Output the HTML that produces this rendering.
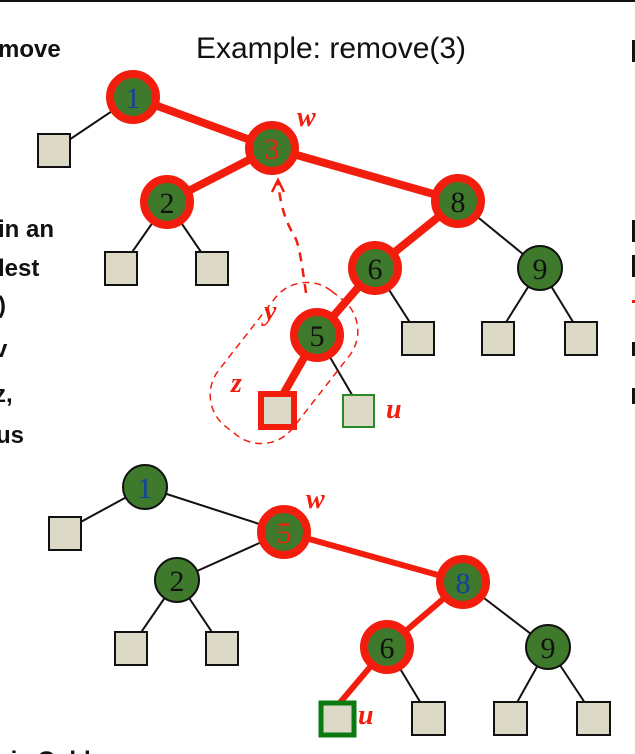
<!DOCTYPE html>
<html><head><meta charset="utf-8"><style>
html,body{margin:0;padding:0;background:#fff;width:635px;height:754px;overflow:hidden}
svg{display:block}
.num{font-family:"Liberation Serif",serif;font-size:30px;text-anchor:middle}
.lbl{font-family:"Liberation Serif",serif;font-style:italic;font-weight:bold;fill:#f21d0d;font-size:28px}
.side{font-family:"Liberation Sans",sans-serif;font-weight:bold;font-size:24px;fill:#111}
</style></head><body>
<svg width="635" height="754" viewBox="0 0 635 754" xmlns="http://www.w3.org/2000/svg">
<rect x="0" y="0" width="635" height="2" fill="#111"/>
<text x="331" y="58" text-anchor="middle" font-family="Liberation Sans,sans-serif" font-size="30" fill="#111">Example: remove(3)</text>
<text class="side" x="-2" y="57">move</text>
<text class="side" x="-2" y="237">in an</text>
<text class="side" x="-2" y="276">lest</text>
<text class="side" x="-2" y="313">)</text>
<text class="side" x="-6" y="357">v</text>
<text class="side" x="-6" y="402">z,</text>
<text class="side" x="-4" y="443">us</text>
<text class="side" x="-4" y="768">nis Cold</text>
<rect x="632" y="40" width="3" height="22" fill="#111"/>
<rect x="632" y="220" width="3" height="22" fill="#111"/>
<rect x="632" y="255" width="3" height="22" fill="#111"/>
<rect x="632" y="300" width="3" height="3" fill="#f21d0d"/>
<rect x="632" y="342" width="3" height="14" fill="#111"/>
<rect x="632" y="388" width="3" height="16" fill="#111"/>

<g id="top">
<g stroke="#111" stroke-width="2">
<line x1="133" y1="97" x2="54" y2="150"/>
<line x1="167" y1="202" x2="121" y2="268"/>
<line x1="167" y1="202" x2="212" y2="268"/>
<line x1="458" y1="201" x2="540" y2="268"/>
<line x1="375" y1="268" x2="418" y2="335"/>
<line x1="540" y1="268" x2="498" y2="335"/>
<line x1="540" y1="268" x2="581" y2="335"/>
<line x1="317" y1="335" x2="358" y2="405"/>
</g>
<g stroke="#f21d0d" stroke-width="8" stroke-linecap="round">
<line x1="133" y1="97" x2="272" y2="148"/>
<line x1="272" y1="148" x2="167" y2="202"/>
<line x1="272" y1="148" x2="458" y2="201"/>
<line x1="458" y1="201" x2="375" y2="268"/>
<line x1="375" y1="268" x2="317" y2="335"/>
<line x1="317" y1="335" x2="277" y2="405"/>
</g>
<g fill="#dcd9c6" stroke="#111" stroke-width="2">
<rect x="38" y="134" width="32" height="33"/>
<rect x="105" y="252" width="32" height="33"/>
<rect x="196" y="252" width="32" height="33"/>
<rect x="402" y="322" width="32" height="33"/>
<rect x="482" y="322" width="32" height="33"/>
<rect x="565" y="322" width="32" height="33"/>
</g>
<rect x="261" y="394" width="33" height="33" fill="#dcd9c6" stroke="#f21d0d" stroke-width="6"/>
<rect x="343" y="395" width="31" height="32" fill="#dcd9c6" stroke="#2a8a2a" stroke-width="2"/>
<g stroke="#f21d0d" stroke-width="8" fill="#3f7a2c">
<circle cx="133" cy="97" r="23"/>
<circle cx="272" cy="148" r="23"/>
<circle cx="167" cy="202" r="23"/>
<circle cx="458" cy="201" r="23"/>
<circle cx="375" cy="268" r="23"/>
<circle cx="317" cy="335" r="23"/>
</g>
<circle cx="540" cy="268" r="22" fill="#3f7a2c" stroke="#111" stroke-width="2"/>
<text class="num" x="133" y="108" fill="#1240a0">1</text>
<text class="num" x="272" y="159" fill="#f21d0d">3</text>
<text class="num" x="167" y="213" fill="#111">2</text>
<text class="num" x="458" y="212" fill="#111">8</text>
<text class="num" x="375" y="279" fill="#111">6</text>
<text class="num" x="540" y="279" fill="#111">9</text>
<text class="num" x="317" y="346" fill="#111">5</text>
<text class="lbl" x="297" y="126">w</text>
<text class="lbl" x="264" y="320">y</text>
<text class="lbl" x="231" y="392">z</text>
<text class="lbl" x="386" y="418">u</text>
<path d="M306 293 C300 250 298 240 292 232 C283 215 280 200 278 182" fill="none" stroke="#f21d0d" stroke-width="2.5" stroke-dasharray="9 7"/>
<path d="M272 192 L278 180 L284 192" fill="none" stroke="#f21d0d" stroke-width="2.5"/>
<rect x="237" y="277" width="94" height="172" rx="40" transform="rotate(38 284 363)" fill="none" stroke="#f21d0d" stroke-width="1.5" stroke-dasharray="7 5"/>
</g>

<g id="bottom">
<g stroke="#111" stroke-width="2">
<line x1="145" y1="487" x2="66" y2="530"/>
<line x1="145" y1="487" x2="284" y2="532"/>
<line x1="284" y1="532" x2="177" y2="580"/>
<line x1="177" y1="580" x2="131" y2="647"/>
<line x1="177" y1="580" x2="222" y2="647"/>
<line x1="463" y1="582" x2="548" y2="647"/>
<line x1="387" y1="647" x2="428" y2="715"/>
<line x1="548" y1="647" x2="510" y2="715"/>
<line x1="548" y1="647" x2="593" y2="715"/>
</g>
<g stroke="#f21d0d" stroke-width="6" stroke-linecap="round">
<line x1="284" y1="532" x2="463" y2="582"/>
<line x1="463" y1="582" x2="387" y2="647"/>
<line x1="387" y1="647" x2="338" y2="705"/>
</g>
<g fill="#dcd9c6" stroke="#111" stroke-width="2">
<rect x="49" y="517" width="32" height="33"/>
<rect x="115" y="632" width="32" height="33"/>
<rect x="206" y="632" width="32" height="33"/>
<rect x="412" y="702" width="33" height="33"/>
<rect x="494" y="702" width="33" height="33"/>
<rect x="577" y="702" width="33" height="33"/>
</g>
<rect x="321" y="703" width="33" height="32" fill="#dcd9c6" stroke="#0a7a10" stroke-width="5"/>
<g fill="#3f7a2c" stroke="#111" stroke-width="2">
<circle cx="145" cy="487" r="22"/>
<circle cx="177" cy="580" r="22"/>
<circle cx="548" cy="647" r="22"/>
</g>
<g stroke="#f21d0d" stroke-width="8" fill="#3f7a2c">
<circle cx="284" cy="532" r="23"/>
<circle cx="463" cy="582" r="23"/>
<circle cx="387" cy="647" r="23"/>
</g>
<text class="num" x="145" y="498" fill="#1240a0">1</text>
<text class="num" x="284" y="543" fill="#f21d0d">5</text>
<text class="num" x="177" y="591" fill="#111">2</text>
<text class="num" x="463" y="593" fill="#1240a0">8</text>
<text class="num" x="387" y="658" fill="#111">6</text>
<text class="num" x="548" y="658" fill="#111">9</text>
<text class="lbl" x="306" y="508">w</text>
<text class="lbl" x="358" y="724">u</text>
</g>
</svg>
</body></html>
